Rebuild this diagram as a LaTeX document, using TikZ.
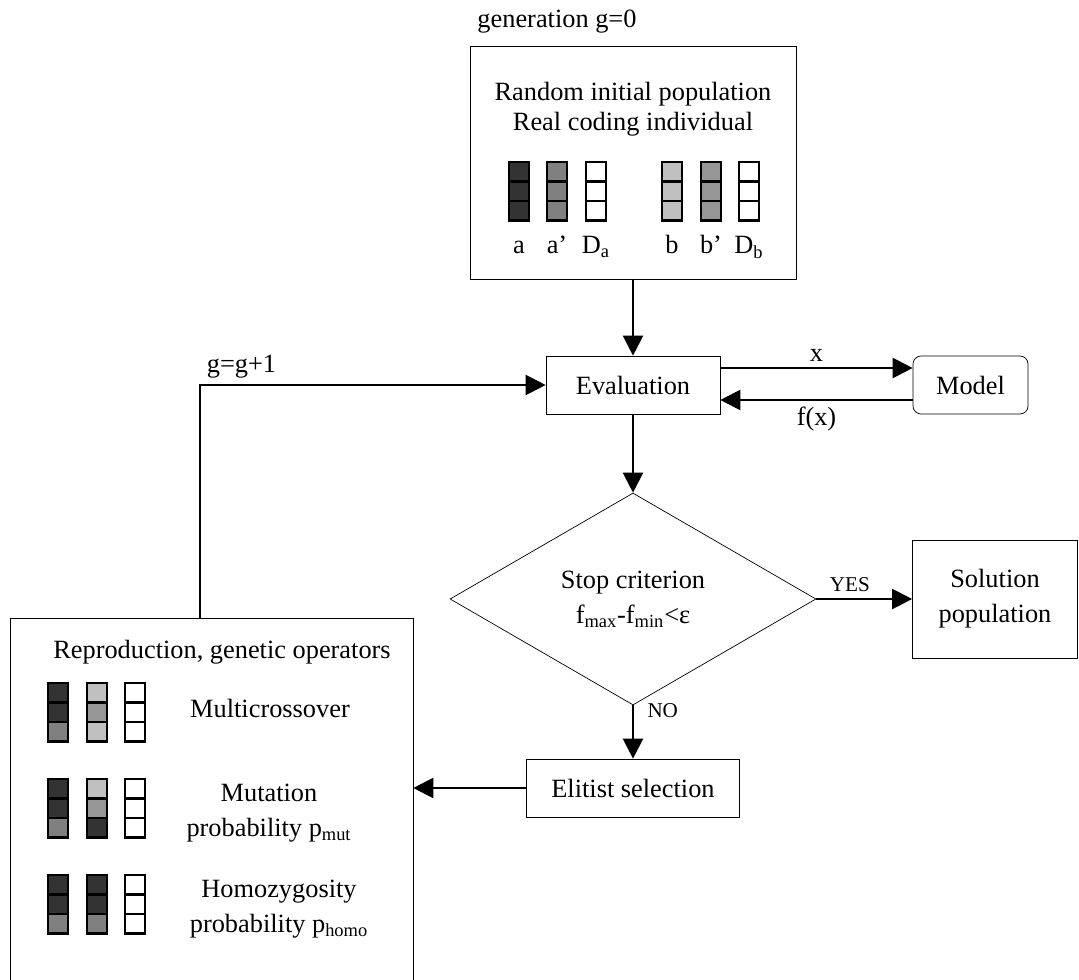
\documentclass[tikz,border=0pt]{standalone}
\usepackage{fontspec}
\setmainfont{Liberation Serif}
\usetikzlibrary{arrows.meta,shapes.geometric}
\definecolor{gdark}{HTML}{333333}
\definecolor{gmid}{HTML}{808080}
\definecolor{gtwo}{HTML}{969696}
\definecolor{glight}{HTML}{C0C0C0}
\tikzset{>={Triangle[length=.4cm,width=.4cm]},line width=1.3pt,
  every node/.style={font=\fontsize{15}{17}\selectfont},
  box/.style={draw,rectangle,inner sep=0pt},
  flow/.style={->,draw=black,line width=1.3pt},
  small/.style={font=\fontsize{12}{14}\selectfont},
  cell/.style={draw=black,line width=1.3pt},
  wide/.style={align=center,font=\fontsize{15}{20}\selectfont}}
\begin{document}
\begin{tikzpicture}[x=.02cm,y=-.02cm]
\useasboundingbox(0,0)rectangle(1079,980);
\node[anchor=base](gen)at(557,28){generation g=0};
\node[box,minimum width=6.52cm,minimum height=4.66cm](init)at(633,162.5){};
\node[align=center](inittxt)at(633,109){Random initial population\\Real coding individual};
\foreach \x/\ca/\cb/\cc in {509/gdark/gdark/gdark,547/gmid/gmid/gmid,586/white/white/white,
  662/glight/glight/glight,701/gtwo/gtwo/gtwo,739/white/white/white}{
  \draw[cell,fill=\ca](\x,162)rectangle++(20,19.5);
  \draw[cell,fill=\cb](\x,181.5)rectangle++(20,19.5);
  \draw[cell,fill=\cc](\x,201)rectangle++(20,19.5);}
\foreach \x/\t in {519/a,557/a',596/D\textsubscript{a},672/b,711/b',749/D\textsubscript{b}}
  \node[anchor=base](lab-\x)at(\x,254){\t};
\node[box,minimum width=3.48cm,minimum height=1.16cm](eval)at(633,385){Evaluation};
\node[box,rounded corners=.16cm,minimum width=2.3cm,minimum height=1.16cm](model)at(970.5,385){Model};
\node[draw,diamond,inner sep=0pt,minimum width=7.32cm,minimum height=4.24cm,wide](stop)at(633,599)
  {Stop criterion\\f\textsubscript{max}-f\textsubscript{min}<ε};
\node[box,wide,minimum width=3.3cm,minimum height=2.36cm](sol)at(995,599){Solution\\population};
\node[box,minimum width=4.26cm,minimum height=1.16cm](elit)at(633,788){Elitist selection};
\node[box,minimum width=8.06cm,minimum height=7.64cm](repro)at(211.5,809){};
\node(reprotxt)at(222,652){Reproduction, genetic operators};
\foreach \x/\y/\ca/\cb/\cc in {48/683/gdark/gdark/gmid,87/683/glight/gtwo/glight,125/683/white/white/white,
  48/779/gdark/gdark/gmid,87/779/glight/gtwo/gdark,125/779/white/white/white,
  48/875/gdark/gdark/gmid,87/875/gdark/gdark/gmid,125/875/white/white/white}{
  \draw[cell,fill=\ca](\x,\y)rectangle++(20,19.5);
  \draw[cell,fill=\cb](\x,\y+19.5)rectangle++(20,19.5);
  \draw[cell,fill=\cc](\x,\y+39)rectangle++(20,19.5);}
\node(multi)at(270,708){Multicrossover};
\node[wide](mut)at(269,813){Mutation\\probability p\textsubscript{mut}};
\node[wide](homo)at(279,909){Homozygosity\\probability p\textsubscript{homo}};
\draw[flow](init)--(eval);
\draw[flow]([yshift=.34cm]eval.east)--([yshift=.34cm]model.west)node[midway,above]{x};
\draw[flow]([yshift=-.3cm]model.west)--([yshift=-.3cm]eval.east)node[midway,below]{f(x)};
\draw[flow](eval)--(stop);
\draw[flow](stop)--(sol)node[pos=.35,above,small]{YES};
\draw[flow](stop)--(elit)node[pos=.1,right=.15cm,small]{NO};
\draw[flow](elit)--(elit-|repro.east);
\draw[flow]([xshift=-.23cm]repro.north)|-(eval)node[pos=.56,above]{g=g+1};
\end{tikzpicture}
\end{document}
